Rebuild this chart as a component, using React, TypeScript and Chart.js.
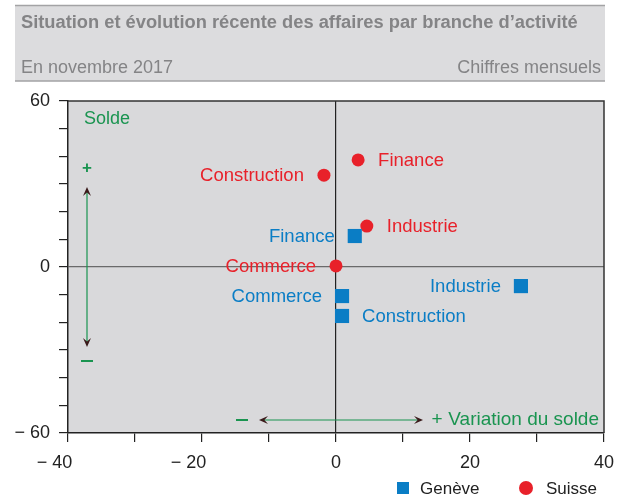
import React, { useEffect, useRef } from "react";
import { Chart, registerables } from "chart.js";

Chart.register(...registerables);

const branches = ["Finance", "Construction", "Industrie", "Commerce"];
const suisseX = [3.3, -1.8, 4.6, 0.0];
const suisseY = [38.7, 33.2, 14.8, 0.4];
const suisseLabelSide = ["right", "left", "right", "left"];

const geneveBranches = ["Finance", "Commerce", "Construction", "Industrie"];
const geneveX = [2.8, 0.9, 0.9, 27.6];
const geneveY = [11.2, -10.5, -17.7, -6.9];
const geneveLabelSide = ["left", "left", "right", "left"];

const seriesNames = ["Genève", "Suisse"];
const title = "Situation et évolution récente des affaires par branche d’activité";
const subtitleLeft = "En novembre 2017";
const subtitleRight = "Chiffres mensuels";

const RED = "#e8212a";
const BLUE = "#0a7dc5";
const GREEN = "#1a9450";
const FONT = "'Liberation Sans', Arial, Helvetica, sans-serif";

const fmt = (v: number) => (v < 0 ? "\u2212 " + Math.abs(v) : String(v));

function arrowHead(ctx: CanvasRenderingContext2D, x: number, y: number, dx: number, dy: number) {
  const L = 9, W = 4;
  const px = -dy, py = dx;
  ctx.beginPath();
  ctx.moveTo(x, y);
  ctx.lineTo(x - dx * L + px * W, y - dy * L + py * W);
  ctx.lineTo(x - dx * L * 0.6, y - dy * L * 0.6);
  ctx.lineTo(x - dx * L - px * W, y - dy * L - py * W);
  ctx.closePath();
  ctx.fill();
}

const decorPlugin = {
  id: "decor",
  beforeDraw(chart: any) {
    const { ctx, chartArea: a } = chart;
    ctx.save();
    ctx.fillStyle = "#d9d9db";
    ctx.fillRect(a.left, a.top, a.right - a.left, a.bottom - a.top);
    // header
    ctx.fillStyle = "#dcdcde";
    ctx.fillRect(15, 5, 590, 76);
    ctx.strokeStyle = "#a3a3a5";
    ctx.lineWidth = 1.5;
    ctx.beginPath();
    ctx.moveTo(15, 5.5);
    ctx.lineTo(605, 5.5);
    ctx.moveTo(15, 81);
    ctx.lineTo(605, 81);
    ctx.stroke();
    ctx.fillStyle = "#848486";
    ctx.textBaseline = "middle";
    ctx.font = `bold 18.3px ${FONT}`;
    ctx.textAlign = "left";
    ctx.fillText(title, 21, 23);
    ctx.font = `18px ${FONT}`;
    ctx.fillText(subtitleLeft, 21, 68);
    ctx.textAlign = "right";
    ctx.fillText(subtitleRight, 601, 68);
    ctx.restore();
  },
  afterDatasetsDraw(chart: any) {
    const { ctx, chartArea: a } = chart;
    const xs = chart.scales.x;
    const ys = chart.scales.y;
    ctx.save();
    // top & right border
    ctx.strokeStyle = "#333";
    ctx.lineWidth = 1.5;
    ctx.beginPath();
    ctx.moveTo(a.left, a.top);
    ctx.lineTo(a.right, a.top);
    ctx.lineTo(a.right, a.bottom);
    ctx.stroke();

    ctx.font = `18.5px ${FONT}`;
    ctx.textBaseline = "middle";
    const drawLabels = (names: string[], X: number[], Y: number[], side: string[], color: string, off: number) => {
      ctx.fillStyle = color;
      names.forEach((n, i) => {
        const px = xs.getPixelForValue(X[i]);
        const py = ys.getPixelForValue(Y[i]);
        if (side[i] === "right") {
          ctx.textAlign = "left";
          ctx.fillText(n, px + off, py + 1);
        } else {
          ctx.textAlign = "right";
          ctx.fillText(n, px - off, py + 1);
        }
      });
    };
    drawLabels(branches, suisseX, suisseY, suisseLabelSide, RED, 20);
    drawLabels(geneveBranches, geneveX, geneveY, geneveLabelSide, BLUE, 20);

    // Annotations
    ctx.fillStyle = GREEN;
    ctx.textAlign = "left";
    ctx.font = `18px ${FONT}`;
    ctx.fillText("Solde", 84, 119);
    ctx.textAlign = "center";
    ctx.font = `bold 17px ${FONT}`;
    ctx.fillText("+", 87, 168);
    ctx.fillRect(81, 360, 12, 2);
    ctx.fillRect(236, 419, 12, 2);
    ctx.font = `19px ${FONT}`;
    ctx.fillText("+", 437, 420);
    ctx.textAlign = "right";
    ctx.fillText("Variation du solde", 599, 420);

    ctx.strokeStyle = GREEN;
    ctx.lineWidth = 1.2;
    ctx.beginPath();
    ctx.moveTo(87, 192);
    ctx.lineTo(87, 343);
    ctx.moveTo(263, 420);
    ctx.lineTo(419, 420);
    ctx.stroke();
    ctx.fillStyle = "#3a1a1a";
    arrowHead(ctx, 87, 187, 0, -1);
    arrowHead(ctx, 87, 347, 0, 1);
    arrowHead(ctx, 259, 420, -1, 0);
    arrowHead(ctx, 423, 420, 1, 0);

    // legend
    ctx.fillStyle = BLUE;
    ctx.fillRect(397, 482, 12, 12);
    ctx.fillStyle = RED;
    ctx.beginPath();
    ctx.arc(526, 488, 7, 0, Math.PI * 2);
    ctx.fill();
    ctx.fillStyle = "#222";
    ctx.textAlign = "left";
    ctx.font = `17px ${FONT}`;
    ctx.fillText(seriesNames[0], 420, 489);
    ctx.fillText(seriesNames[1], 546, 489);
    ctx.restore();
  },
};

const noPad = (s: any) => {
  s.paddingLeft = 0;
  s.paddingRight = 0;
  s.paddingTop = 0;
  s.paddingBottom = 0;
};

export default function App() {
  const ref = useRef<HTMLCanvasElement | null>(null);
  useEffect(() => {
    if (!ref.current) return;
    const chart = new Chart(ref.current, {
      type: "scatter",
      data: {
        datasets: [
          {
            label: seriesNames[0],
            data: geneveX.map((x, i) => ({ x, y: geneveY[i] })),
            pointStyle: "rect",
            pointRadius: 10,
            pointHoverRadius: 10,
            backgroundColor: BLUE,
            borderColor: BLUE,
            borderWidth: 0,
          },
          {
            label: seriesNames[1],
            data: suisseX.map((x, i) => ({ x, y: suisseY[i] })),
            pointStyle: "circle",
            pointRadius: 6.5,
            pointHoverRadius: 6.5,
            backgroundColor: RED,
            borderColor: RED,
            borderWidth: 0,
          },
        ],
      },
      options: {
        responsive: false,
        animation: false,
        layout: { padding: { left: 0, right: 15, top: 101, bottom: 0 } },
        plugins: { legend: { display: false }, tooltip: { enabled: false } },
        scales: {
          x: {
            type: "linear",
            min: -40,
            max: 40,
            afterFit: (s: any) => {
              s.height = 66;
              noPad(s);
            },
            ticks: {
              stepSize: 10,
              autoSkip: false,
              maxRotation: 0,
              padding: 10,
              color: "#222",
              font: { family: FONT, size: 18 },
              callback: (v: any) => {
                const n = Number(v);
                if (n % 20 !== 0) return "";
                return n < 0 ? fmt(n) + "\u2002\u2002\u2002" : fmt(n);
              },
            },
            grid: {
              drawOnChartArea: true,
              color: (c: any) => (c.tick && c.tick.value === 0 ? "#222" : "rgba(0,0,0,0)"),
              tickColor: "#222",
              tickLength: 9,
              lineWidth: 1.2,
            },
            border: { display: true, color: "#222", width: 1.5 },
          },
          y: {
            type: "linear",
            min: -60,
            max: 60,
            afterFit: (s: any) => {
              s.width = 68;
              noPad(s);
            },
            ticks: {
              stepSize: 10,
              autoSkip: false,
              padding: 9,
              color: "#222",
              font: { family: FONT, size: 18 },
              callback: (v: any) => (Number(v) % 60 === 0 ? fmt(Number(v)) : ""),
            },
            grid: {
              drawOnChartArea: true,
              color: (c: any) => (c.tick && c.tick.value === 0 ? "#6a6a6a" : "rgba(0,0,0,0)"),
              tickColor: "#222",
              tickLength: 9,
              lineWidth: 1.2,
            },
            border: { display: true, color: "#222", width: 1.5 },
          },
        },
      },
      plugins: [decorPlugin],
    } as any);
    return () => chart.destroy();
  }, []);
  return (
    <div style={{ position: "absolute", left: 0, top: 0, width: 619, height: 499, background: "#fff" }}>
      <canvas ref={ref} width={619} height={499} style={{ display: "block" }} />
    </div>
  );
}
